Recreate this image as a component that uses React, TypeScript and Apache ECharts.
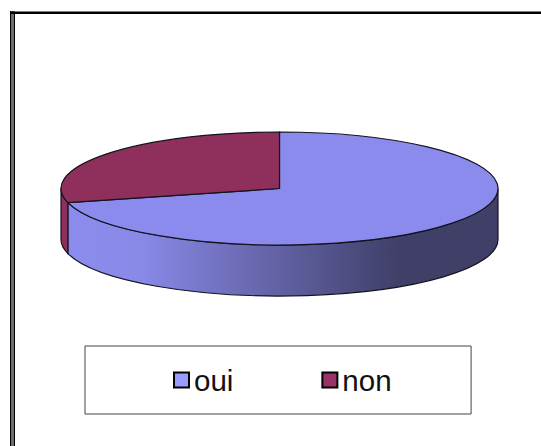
import React, { useEffect, useRef } from "react";
import * as echarts from "echarts";

const categories = ["oui", "non"];
const values = [71, 29];
const legendColors = ["#9999FF", "#993366"];
const topColors = ["#8B8BEE", "#8E2F5C"];

const CX = 279.5;
const CY = 188.5;
const RX = 218.5;
const RY = 56.5;
const DEPTH = 51;
const total = values.reduce((a, b) => a + b, 0);

const pt = (deg: number, dy = 0) => {
  const r = (deg * Math.PI) / 180;
  return [CX + RX * Math.sin(r), CY - RY * Math.cos(r) + dy];
};
const arc = (to: number[], large: boolean, sweep: number) =>
  `A ${RX} ${RY} 0 ${large ? 1 : 0} ${sweep} ${to[0]} ${to[1]}`;

const wallFill = (i: number) =>
  i === 0
    ? new echarts.graphic.LinearGradient(0, 0, 1, 0, [
        { offset: 0, color: "#8C8CEE" },
        { offset: 0.17, color: "#8989E8" },
        { offset: 0.77, color: "#3F3F68" },
        { offset: 1, color: "#3F3F68" },
      ])
    : topColors[i];

const renderSlice = (i: number) => (_params: any, api: any) => {
  const before = values.slice(0, i).reduce((a, b) => a + b, 0);
  const a0 = (before / total) * 360;
  const a1 = a0 + (api.value(0) / total) * 360;
  const children: any[] = [];
  const w0 = Math.max(a0, 90);
  const w1 = Math.min(a1, 270);
  const stroke = { stroke: "#14141f", lineWidth: 1.2 };
  if (w1 > w0) {
    const p0 = pt(w0);
    const p1 = pt(w1);
    const q1 = pt(w1, DEPTH);
    const q0 = pt(w0, DEPTH);
    const large = w1 - w0 > 180;
    children.push({
      type: "path",
      shape: {
        pathData: `M ${p0[0]} ${p0[1]} ${arc(p1, large, 1)} L ${q1[0]} ${q1[1]} ${arc(q0, large, 0)} Z`,
      },
      style: { fill: wallFill(i), ...stroke },
    });
  }
  const s = pt(a0);
  const e = pt(a1);
  children.push({
    type: "path",
    shape: {
      pathData: `M ${CX} ${CY} L ${s[0]} ${s[1]} ${arc(e, a1 - a0 > 180, 1)} Z`,
    },
    style: { fill: topColors[i], ...stroke },
  });
  return { type: "group", children };
};

export default function App() {
  const ref = useRef<HTMLDivElement>(null);
  useEffect(() => {
    document.body.style.margin = "0";
    const chart = echarts.init(ref.current!, null, { renderer: "svg" });
    chart.setOption({
      animation: false,
      backgroundColor: "#ffffff",
      legend: {
        left: 85,
        top: 346,
        orient: "horizontal",
        padding: [19, 79.5, 19, 88],
        itemGap: 88,
        itemWidth: 15,
        itemHeight: 15,
        itemStyle: { borderColor: "#000000", borderWidth: 2 },
        borderColor: "#444444",
        borderWidth: 1,
        selectedMode: false,
        textStyle: { fontFamily: "Liberation Sans", fontSize: 29.5, color: "#111111" },
        data: categories.map((name, i) => ({
          name,
          icon: "rect",
          itemStyle: { color: legendColors[i], borderColor: "#000000", borderWidth: 2 },
        })),
      },
      graphic: [
        {
          type: "rect",
          shape: { x: 10, y: 11, width: 5, height: 435 },
          style: { fill: "#6e6e6e" },
        },
        {
          type: "line",
          shape: { x1: 10.5, y1: 11, x2: 10.5, y2: 446 },
          style: { stroke: "#000000", lineWidth: 1 },
        },
        {
          type: "line",
          shape: { x1: 14.5, y1: 14, x2: 14.5, y2: 446 },
          style: { stroke: "#000000", lineWidth: 1 },
        },
        {
          type: "rect",
          shape: { x: 10, y: 11.5, width: 531, height: 2.5 },
          style: { fill: "#000000" },
        },
      ],
      series: categories.map((name, i) => ({
        type: "custom",
        name,
        coordinateSystem: "none",
        silent: true,
        itemStyle: { color: legendColors[i] },
        data: [[values[i]]],
        renderItem: renderSlice(i),
      })),
    });
    return () => chart.dispose();
  }, []);
  return <div ref={ref} style={{ width: 541, height: 446 }} />;
}
